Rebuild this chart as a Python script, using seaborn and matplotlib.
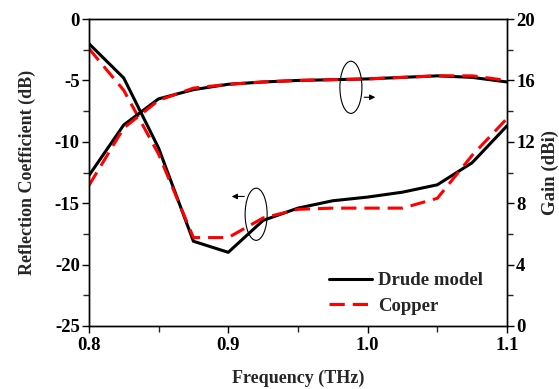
import matplotlib
matplotlib.use("Agg")
import matplotlib.pyplot as plt
import seaborn as sns
import pandas as pd
from matplotlib.patches import Ellipse
from matplotlib.ticker import MultipleLocator

freq = [0.8, 0.825, 0.85, 0.875, 0.9, 0.925, 0.95, 0.975, 1.0, 1.025, 1.05, 1.075, 1.1]
refl_drude = [-2.0, -4.8, -10.5, -18.1, -19.0, -16.4, -15.4, -14.8, -14.5, -14.1, -13.5, -11.7, -8.7]
refl_copper = [-2.4, -5.8, -11.0, -17.8, -17.8, -16.2, -15.5, -15.4, -15.4, -15.4, -14.6, -11.1, -8.1]
gain_drude = [9.8, 13.1, 14.8, 15.4, 15.75, 15.9, 16.0, 16.05, 16.1, 16.2, 16.3, 16.2, 15.9]
gain_copper = [9.15, 12.9, 14.7, 15.5, 15.75, 15.9, 16.0, 16.05, 16.1, 16.2, 16.3, 16.3, 16.0]
series_names = ["Drude model", "Copper"]

sns.set_style("ticks")
plt.rcParams["font.family"] = ["Liberation Serif", "DejaVu Serif"]
plt.rcParams["font.weight"] = "bold"
plt.rcParams["axes.unicode_minus"] = False

fig = plt.figure(figsize=(5.59, 3.89), dpi=100)
ax = fig.add_axes([0.159, 0.162, 0.748, 0.789])
ax2 = ax.twinx()

df_r = pd.DataFrame({"f": freq * 2, "v": refl_drude + refl_copper,
                     "s": [series_names[0]] * len(freq) + [series_names[1]] * len(freq)})
df_g = pd.DataFrame({"f": freq * 2, "v": gain_drude + gain_copper,
                     "s": [series_names[0]] * len(freq) + [series_names[1]] * len(freq)})

palette = {series_names[0]: "black", series_names[1]: "#ff0000"}
dashes = {series_names[0]: "", series_names[1]: (5, 2.6)}

sns.lineplot(data=df_r, x="f", y="v", hue="s", style="s", palette=palette, dashes=dashes,
             linewidth=2.2, ax=ax, legend=False)
sns.lineplot(data=df_g, x="f", y="v", hue="s", style="s", palette=palette, dashes=dashes,
             linewidth=2.2, ax=ax2, legend=True)

ax.set_xlim(0.8, 1.1)
ax.set_ylim(-25, 0)
ax2.set_ylim(0, 20)
ax.xaxis.set_minor_locator(MultipleLocator(0.05))
ax.yaxis.set_major_locator(MultipleLocator(5))
ax.yaxis.set_minor_locator(MultipleLocator(2.5))
ax2.yaxis.set_major_locator(MultipleLocator(4))
ax2.yaxis.set_minor_locator(MultipleLocator(2))
ax.set_xticks([0.8, 0.9, 1.0, 1.1])
ax.set_xticklabels(["0.8", "0.9", "1.0", "1.1"])

for a in (ax, ax2):
    for sp in a.spines.values():
        sp.set_visible(True)
        sp.set_linewidth(1.0)
        sp.set_color("black")
    a.tick_params(which="major", direction="out", length=5, width=1.0, labelsize=13.5,
                  colors="black", pad=1.5)
    a.tick_params(which="minor", direction="out", length=4, width=1.0)
    for lab in a.get_xticklabels() + a.get_yticklabels():
        lab.set_fontweight("bold")
ax.tick_params(axis="x", pad=3)

ax.set_xlabel("Frequency (THz)", fontsize=13, fontweight="bold", labelpad=11)
ax.set_ylabel("Reflection Coefficient (dB)", fontsize=13, fontweight="bold", labelpad=13.5)
ax2.set_ylabel("Gain (dBi)", fontsize=13.5, fontweight="bold", labelpad=5)

leg = ax2.legend(loc="lower right", bbox_to_anchor=(0.983, -0.018), frameon=False,
                 prop={"weight": "bold", "size": 13.5}, handlelength=2.3,
                 handletextpad=0.3, labelspacing=0.45)
for h in leg.get_lines():
    h.set_linewidth(2.2)

# annotations: ellipses with arrows (gain -> right axis, reflection -> left axis)
ax.add_patch(Ellipse((0.988, -5.56), 0.0158, 4.25, fill=False, lw=0.8, color="black"))
ax.annotate("", xy=(1.0075, -6.37), xytext=(0.9955, -6.37),
            arrowprops=dict(arrowstyle="-|>", lw=0.8, color="black", mutation_scale=8))
ax.add_patch(Ellipse((0.920, -15.9), 0.0158, 4.25, fill=False, lw=0.8, color="black"))
ax.annotate("", xy=(0.9005, -14.45), xytext=(0.9135, -14.45),
            arrowprops=dict(arrowstyle="-|>", lw=0.8, color="black", mutation_scale=8))

fig.savefig("out.png", dpi=100)
